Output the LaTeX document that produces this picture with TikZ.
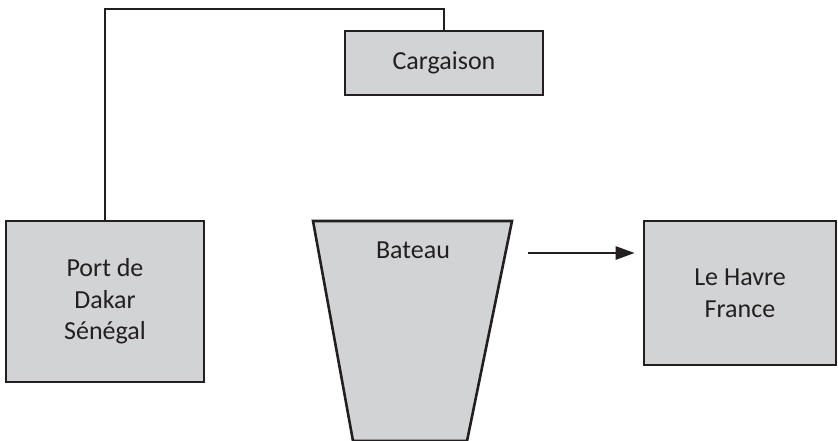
\documentclass[tikz,border=0pt]{standalone}
\usepackage{fontspec}
\setmainfont{Carlito}
\usetikzlibrary{arrows.meta}
\definecolor{boxfill}{HTML}{D1D3D4}
\definecolor{ink}{HTML}{231F20}
\begin{document}
\begin{tikzpicture}[x=1pt,y=-1pt,
  label font/.style={font=\fontsize{26}{31.7}\selectfont, text=ink},
  block/.style={draw=ink, fill=boxfill, line width=2.6pt, inner sep=0pt,
    align=center, label font},
  link/.style={draw=ink, line width=2.6pt},
  flow/.style={link, -{Triangle[length=19pt,width=13pt]}}]
  \useasboundingbox (0,0) rectangle (838,441);

  % departure port
  \node[block, minimum width=198pt, minimum height=161pt] (port) at (105,301.5)
    {Port de\\Dakar\\Sénégal};
  % cargo
  \node[block, minimum width=198pt, minimum height=64pt] (cargo) at (444,63)
    {Cargaison};
  % destination port
  \node[block, minimum width=192pt, minimum height=144pt] (havre) at (740,293)
    {Le Havre\\France};

  % ship hull, running off the lower edge
  \coordinate (hullTL) at (313,221);
  \coordinate (hullTR) at (512,221);
  \coordinate (hullBR) at (467,441);
  \coordinate (hullBL) at (353,441);
  \begin{scope}
    \clip (0,0) rectangle (838,441);
    \draw[draw=ink, fill=boxfill, line width=2.6pt, line join=miter]
      (hullTL) -- (hullTR) -- (hullBR) -- (hullBL) -- cycle;
  \end{scope}
  \node[label font, anchor=center] (ship) at (413,250) {Bateau};

  % links
  \coordinate (overhead) at (444,9);
  \draw[link] (port.north) |- (overhead) -- (cargo.north);
  \coordinate (sail) at (528,253);
  \draw[flow] (sail) -- ([xshift=-8pt]havre.west |- sail);
\end{tikzpicture}
\end{document}
